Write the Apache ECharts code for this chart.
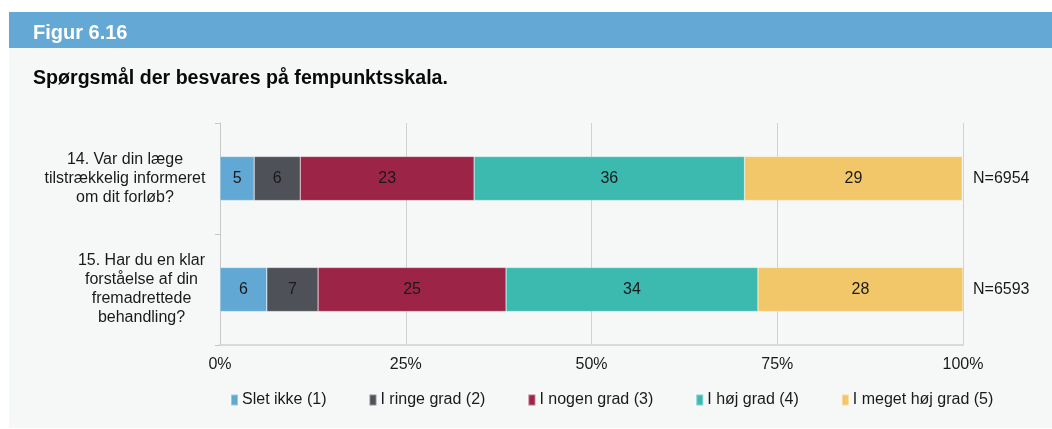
<!DOCTYPE html>
<html>
<head>
<meta charset="utf-8">
<script src="https://cdn.jsdelivr.net/npm/echarts@6/dist/echarts.min.js"></script>
<style>
  html, body { margin: 0; padding: 0; background: #ffffff; }
  #chart { width: 1052px; height: 429px; }
</style>
</head>
<body>
<div id="chart"></div>
<script>
// ---- data ----
const figureLabel = 'Figur 6.16';
const chartTitle = 'Spørgsmål der besvares på fempunktsskala.';
const categories = [
  '14. Var din læge\ntilstrækkelig informeret\nom dit forløb?',
  '15. Har du en klar\nforståelse af din\nfremadrettede\nbehandling?'
];
const nLabels = ['N=6954', 'N=6593'];
const seriesNames = ['Slet ikke (1)', 'I ringe grad (2)', 'I nogen grad (3)', 'I høj grad (4)', 'I meget høj grad (5)'];
const sletIkke   = [4.6, 6.3];
const ringeGrad  = [6.2, 6.9];
const nogenGrad  = [23.4, 25.3];
const hoejGrad   = [36.4, 33.9];
const megetHoej  = [29.3, 27.6];
const xTicks = [0, 25, 50, 75, 100];

const colors = ['#62a8d5', '#4e5158', '#9b2447', '#3dbab0', '#f2c76a'];
const FONT = '"Liberation Sans", Arial, Helvetica, sans-serif';
const TEXT = '#1a1a1a';

// measure label lines so each label block can be right-aligned with centered lines
const ctx = document.createElement('canvas').getContext('2d');
ctx.font = '16px ' + FONT;
const rich = {};
categories.forEach((c, i) => {
  const w = Math.max(...c.split('\n').map(l => ctx.measureText(l).width));
  rich['q' + i] = { width: Math.ceil(w) + 1, align: 'center', fontSize: 16, fontFamily: FONT, color: TEXT, lineHeight: 19 };
});

const allValues = [sletIkke, ringeGrad, nogenGrad, hoejGrad, megetHoej];

const chart = echarts.init(document.getElementById('chart'), null, { renderer: 'canvas' });
chart.setOption({
  backgroundColor: '#ffffff',
  animation: false,
  graphic: [
    { type: 'rect', shape: { x: 9, y: 12, width: 1043, height: 416 }, style: { fill: '#f6f8f8' }, z: -10, silent: true },
    { type: 'rect', shape: { x: 9, y: 12, width: 1043, height: 36 }, style: { fill: '#64a9d5' }, z: -9, silent: true }
  ],
  title: [
    { text: figureLabel, left: 28, top: 18, textStyle: { color: '#ffffff', fontSize: 20, fontWeight: 'bold', fontFamily: FONT } },
    { text: chartTitle, left: 28, top: 64, textStyle: { color: '#0a0a0a', fontSize: 19.6, fontWeight: 'bold', fontFamily: FONT } }
  ],
  legend: {
    left: 225, top: 387,
    icon: 'rect', itemWidth: 7, itemHeight: 11, itemGap: 42,
    textStyle: { fontSize: 16, fontFamily: FONT, color: TEXT, padding: [0, 0, 0, -1] },
    data: seriesNames
  },
  grid: { left: 220, right: 89, top: 123, bottom: 84, containLabel: false },
  xAxis: {
    type: 'value', min: xTicks[0], max: xTicks[xTicks.length - 1], interval: xTicks[1] - xTicks[0],
    axisLine: { show: true, lineStyle: { color: '#d9d9d9', width: 2 } },
    axisTick: { show: false },
    axisLabel: { formatter: '{value}%', fontSize: 16, fontFamily: FONT, color: TEXT, margin: 12 },
    splitLine: { show: true, lineStyle: { color: '#d2d2d2', width: 1 } }
  },
  yAxis: [
    {
      type: 'category', inverse: true, data: categories,
      axisLine: { show: true, lineStyle: { color: '#c8c8c8', width: 1 } },
      axisTick: { show: true, length: 5, lineStyle: { color: '#c8c8c8' } },
      axisLabel: {
        margin: 14, align: 'right',
        formatter: (v, i) => v.split('\n').map(l => '{q' + i + '|' + l + '}').join('\n'),
        rich: rich
      }
    },
    {
      type: 'category', inverse: true, position: 'right', data: nLabels,
      axisLine: { show: false }, axisTick: { show: false },
      axisLabel: { margin: 10, align: 'left', fontSize: 16, fontFamily: FONT, color: TEXT, padding: [0, 0, 4, 0] }
    }
  ],
  series: seriesNames.map((name, i) => ({
    name: name, type: 'bar', stack: 'total', barWidth: 44,
    data: allValues[i],
    itemStyle: { color: colors[i], borderColor: 'rgba(255,255,255,0.35)', borderWidth: 0.6 },
    label: {
      show: true, position: 'inside', fontSize: 16, fontFamily: FONT, color: TEXT,
      formatter: p => Math.round(p.value)
    }
  }))
});
</script>
</body>
</html>
